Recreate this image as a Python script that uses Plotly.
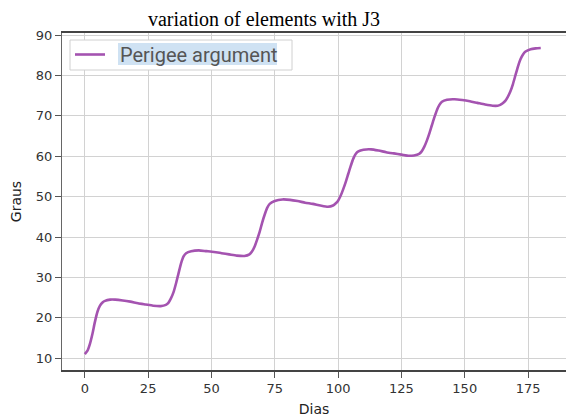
import plotly.graph_objects as go

# ---- data ----
days = [0, 1, 2, 3, 4, 5, 6, 7, 8, 10, 12, 15, 18, 21, 24, 27, 30, 32, 33, 34, 35, 36, 37, 38, 39, 40,
        42, 45, 48, 51, 54, 57, 60, 63, 65, 66, 67, 68, 69, 70, 71, 72, 73, 75, 78, 81, 84, 87, 90, 93,
        96, 98, 99, 100, 101, 102, 103, 104, 105, 106, 107, 108, 110, 113, 116, 119, 122, 125, 128, 130,
        132, 133, 134, 135, 136, 137, 138, 139, 140, 141, 143, 146, 149, 152, 155, 158, 161, 163, 164,
        165, 166, 167, 168, 169, 170, 171, 172, 173, 174, 176, 178, 180]
perigee = [11.0, 11.8, 13.5, 16.0, 19.0, 21.5, 23.0, 23.8, 24.2, 24.5, 24.5, 24.3, 24.0, 23.6, 23.3, 23.0,
           22.9, 23.2, 23.7, 24.8, 26.3, 28.5, 31.0, 33.5, 35.2, 36.0,
           36.5, 36.7, 36.5, 36.3, 36.0, 35.7, 35.4, 35.3, 35.7, 36.4, 37.6, 39.3, 41.2, 43.5, 45.5, 47.2,
           48.2, 48.9, 49.3, 49.2, 48.9, 48.5, 48.2, 47.8,
           47.5, 47.8, 48.3, 49.0, 50.2, 51.8, 53.6, 55.6, 57.6, 59.4, 60.6, 61.2, 61.6, 61.7, 61.4, 61.0,
           60.7, 60.4, 60.1, 60.2,
           60.6, 61.2, 62.3, 63.8, 65.6, 67.6, 69.6, 71.4, 72.7, 73.5, 74.0, 74.1, 73.9, 73.6, 73.2, 72.8,
           72.5, 72.5, 72.7,
           73.1, 73.7, 74.7, 76.0, 77.8, 80.0, 82.2, 84.0, 85.2, 85.9, 86.5, 86.7, 86.8]
series_name = "Perigee argument"
x_ticks = [0, 25, 50, 75, 100, 125, 150, 175]
y_ticks = [10, 20, 30, 40, 50, 60, 70, 80, 90]

W, H = 566, 419
ML, MR, MT, MB = 62, 0, 33, 49


def xp(px):
    return (px - ML) / (W - ML - MR)


def yp(py):
    return (H - MB - py) / (H - MT - MB)


fig = go.Figure()
fig.add_trace(go.Scatter(
    x=days, y=perigee, mode="lines", name="\u00a0\u00a0" + series_name,
    line=dict(color="#a453b0", width=2.6, shape="spline", smoothing=0.6),
    showlegend=True,
))

axis_common = dict(
    showgrid=True, gridcolor="#d2d2d2", gridwidth=1,
    ticks="outside", ticklen=6, tickcolor="#555555", tickwidth=1,
    tickfont=dict(family="DejaVu Sans", size=13, color="#333333"),
    zeroline=False, showline=True,
)

fig.update_xaxes(
    range=[-9, -9 + (W - ML - MR) / 2.533], tickvals=x_ticks,
    title=dict(text="Dias", font=dict(family="DejaVu Sans", size=14, color="#222222"), standoff=9),
    linecolor="#444444", linewidth=1.5, mirror=True, **axis_common,
)
fig.update_yaxes(
    range=[7.08, 90.5], tickvals=y_ticks,
    title=dict(text="Graus", font=dict(family="DejaVu Sans", size=14, color="#222222"), standoff=10),
    linecolor="#666666", linewidth=1, **axis_common,
)

fig.update_layout(
    width=W, height=H,
    margin=dict(l=ML, r=MR, t=MT, b=MB),
    paper_bgcolor="white", plot_bgcolor="white",
    title=dict(text="variation of elements with J3", x=264 / W,
               xanchor="center", y=1 - 19 / H, yanchor="middle",
               font=dict(family="Liberation Serif", size=20, color="black")),
    legend=dict(x=xp(70), y=yp(35), xanchor="left", yanchor="top",
                bgcolor="rgba(0,0,0,0)", borderwidth=0,
                font=dict(family="Roboto", size=20, color="#555555")),
    shapes=[
        dict(type="rect", xref="paper", yref="paper", x0=xp(70), x1=xp(292), y0=yp(70), y1=yp(40),
             fillcolor="white", line=dict(color="#d0d0d0", width=1), layer="above"),
        dict(type="rect", xref="paper", yref="paper", x0=xp(118), x1=xp(277), y0=yp(65), y1=yp(43),
             fillcolor="#cfe2f3", line=dict(width=0), layer="above"),
    ],
)

fig.write_html("out.html")
